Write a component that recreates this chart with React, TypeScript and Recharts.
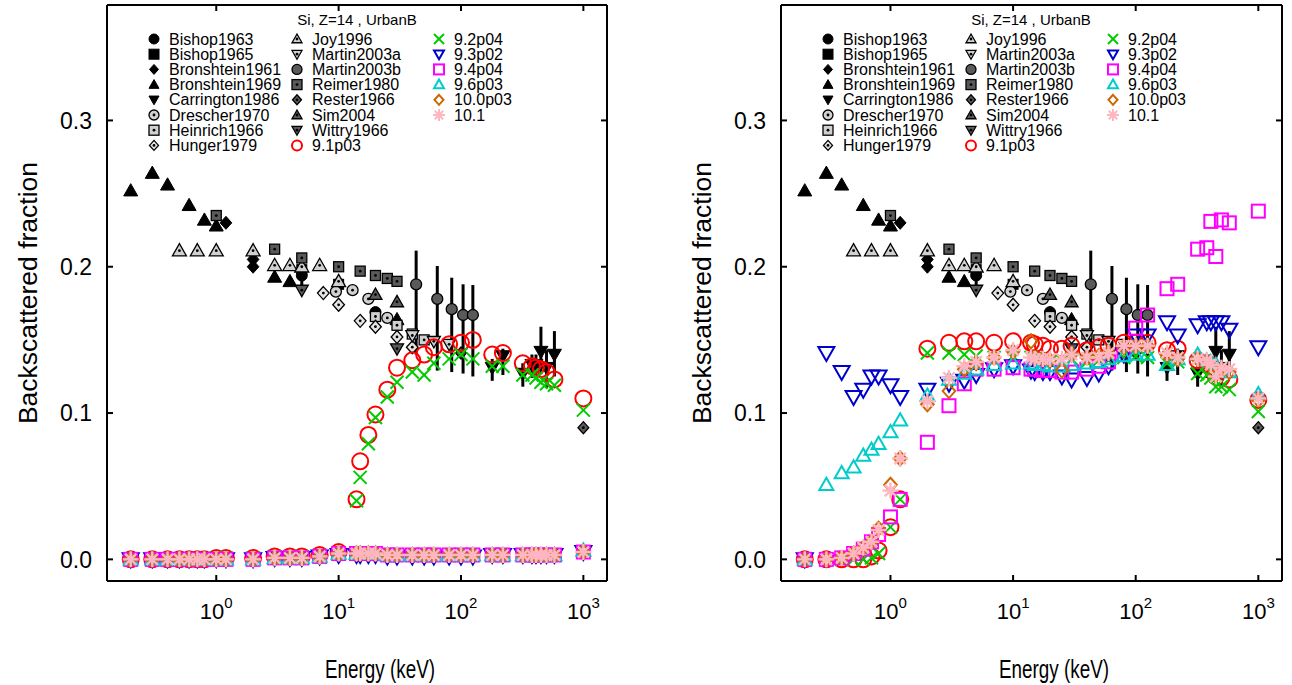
import React from 'react';
import { ScatterChart, Scatter, XAxis, YAxis, ErrorBar } from 'recharts';

const FONT = '"Liberation Sans", Arial, Helvetica, sans-serif';

// ---- experimental data (same in both panels), energy in keV ----
// error arrays are [below, above]
const bishop1963E = [5, 20];
const bishop1963V = [0.194, 0.169];
const bishop1965E = [5, 10];
const bishop1965V = [0.198, 0.188];
const bishop1965Err = [[0.013, 0.011], [0.005, 0.005]];
const bronshtein1961E = [1.2, 2, 2];
const bronshtein1961V = [0.23, 0.205, 0.2];
const bronshtein1969E = [0.2, 0.3, 0.4, 0.6, 0.8, 1.0, 3, 4, 30];
const bronshtein1969V = [0.252, 0.264, 0.256, 0.242, 0.232, 0.228, 0.193, 0.19, 0.164];
const bronshtein1969Err = [[0, 0], [0, 0], [0, 0], [0, 0], [0, 0], [0, 0], [0, 0], [0, 0], [0.008, 0.003]];
const carrington1986E = [180, 220, 320, 380, 410, 450, 500, 580];
const carrington1986V = [0.131, 0.139, 0.127, 0.133, 0.133, 0.142, 0.131, 0.14];
const carrington1986Err = [[0.009, 0.006], [0.013, 0.005], [0.009, 0.007], [0.009, 0.007], [0.009, 0.007], [0.015, 0.017], [0.014, 0.012], [0.015, 0.016]];
const drescher1970E = [9.5, 13, 17.5, 25];
const drescher1970V = [0.183, 0.184, 0.178, 0.165];
const heinrich1966E = [20, 30, 40, 50];
const heinrich1966V = [0.166, 0.16, 0.154, 0.15];
const hunger1979E = [7.5, 10, 15, 20, 30, 40];
const hunger1979V = [0.182, 0.174, 0.163, 0.159, 0.152, 0.145];
const joy1996E = [0.5, 0.7, 1, 2, 3, 4, 5, 7, 10];
const joy1996V = [0.211, 0.211, 0.211, 0.211, 0.201, 0.201, 0.2, 0.201, 0.19];
const martin2003aE = [40, 60, 80];
const martin2003aV = [0.153, 0.149, 0.147];
const martin2003bE = [43, 64, 84, 104, 125];
const martin2003bV = [0.188, 0.178, 0.171, 0.167, 0.167];
const martin2003bErr = [[0.048, 0.023], [0.049, 0.0225], [0.043, 0.0215], [0.04, 0.021], [0.042, 0.0205]];
const reimer1980E = [1, 3, 5, 10, 15, 20, 25, 30];
const reimer1980V = [0.235, 0.212, 0.206, 0.2, 0.197, 0.194, 0.192, 0.19];
const rester1966E = [100, 1000];
const rester1966V = [0.141, 0.09];
const sim2004E = [20, 30];
const sim2004V = [0.181, 0.176];
const wittry1966E = [5, 30];
const wittry1966V = [0.184, 0.144];

// ---- Geant4 simulations, common energy grid ----
const simE = [0.2, 0.3, 0.4, 0.5, 0.6, 0.7, 0.8, 1.0, 1.2, 2, 3, 4, 5, 7, 10, 14, 15, 17.5, 20, 25, 30, 40, 50, 60, 80, 100, 125, 180, 220, 320, 380, 410, 450, 500, 580, 1000];

// left panel
const g91L = [0, 0, 0, 0, 0, 0, 0, 0.001, 0.001, 0.001, 0.002, 0.002, 0.002, 0.003, 0.005, 0.041, 0.067, 0.085, 0.099, 0.116, 0.131, 0.136, 0.14, 0.145, 0.147, 0.148, 0.15, 0.14, 0.141, 0.134, 0.132, 0.131, 0.13, 0.128, 0.123, 0.11];
const g92L = [0, 0, 0, 0, 0, 0, 0, 0.001, 0.001, 0.001, 0.002, 0.002, 0.002, 0.003, 0.004, 0.04, 0.056, 0.079, 0.097, 0.111, 0.121, 0.128, 0.126, 0.134, 0.137, 0.14, 0.137, 0.132, 0.132, 0.126, 0.126, 0.124, 0.121, 0.12, 0.119, 0.102];
const g93L = [0, 0, 0, 0, 0, 0, 0, 0, 0, 0, 0.001, 0.001, 0.001, 0.002, 0.003, 0.003, 0.003, 0.003, 0.003, 0.002, 0.002, 0.002, 0.002, 0.002, 0.002, 0.002, 0.002, 0.003, 0.003, 0.003, 0.003, 0.003, 0.003, 0.003, 0.003, 0.005];
const g94L = [0, 0, 0, 0, 0, 0, 0, 0, 0, 0, 0.001, 0.001, 0.001, 0.002, 0.004, 0.004, 0.004, 0.004, 0.004, 0.003, 0.003, 0.003, 0.003, 0.003, 0.003, 0.003, 0.003, 0.003, 0.003, 0.003, 0.003, 0.003, 0.003, 0.003, 0.003, 0.005];
const g96L = [0, 0, 0, 0, 0, 0, 0, 0, 0, 0, 0.001, 0.001, 0.001, 0.002, 0.004, 0.004, 0.004, 0.004, 0.004, 0.003, 0.003, 0.003, 0.003, 0.003, 0.003, 0.003, 0.003, 0.003, 0.003, 0.003, 0.003, 0.003, 0.003, 0.003, 0.003, 0.006];
const g100L = [0, 0, 0, 0, 0, 0, 0, 0, 0, 0, 0.001, 0.001, 0.001, 0.002, 0.004, 0.004, 0.004, 0.004, 0.004, 0.003, 0.003, 0.003, 0.003, 0.003, 0.003, 0.003, 0.003, 0.003, 0.003, 0.003, 0.003, 0.003, 0.003, 0.003, 0.003, 0.005];
const g101L = [0, 0, 0, 0, 0, 0, 0, 0, 0, 0, 0.001, 0.001, 0.001, 0.002, 0.004, 0.004, 0.004, 0.004, 0.004, 0.003, 0.003, 0.003, 0.003, 0.003, 0.003, 0.003, 0.003, 0.003, 0.003, 0.003, 0.003, 0.003, 0.003, 0.003, 0.003, 0.005];

// right panel
const g91R = [0, 0, 0, 0, 0, 0.002, 0.006, 0.022, 0.041, 0.144, 0.148, 0.149, 0.149, 0.148, 0.149, 0.148, 0.147, 0.146, 0.144, 0.144, 0.146, 0.143, 0.145, 0.146, 0.148, 0.148, 0.148, 0.143, 0.144, 0.136, 0.134, 0.133, 0.125, 0.124, 0.123, 0.109];
const g92R = [0, 0, 0, 0, 0, 0.001, 0.004, 0.022, 0.041, 0.141, 0.141, 0.14, 0.139, 0.138, 0.139, 0.138, 0.137, 0.136, 0.135, 0.136, 0.137, 0.135, 0.136, 0.136, 0.138, 0.139, 0.138, 0.134, 0.135, 0.127, 0.126, 0.124, 0.118, 0.118, 0.116, 0.101];
const g93R = [0, 0.141, 0.128, 0.111, 0.116, 0.125, 0.125, 0.119, 0.111, 0.116, 0.12, 0.122, 0.126, 0.13, 0.132, 0.129, 0.128, 0.128, 0.128, 0.125, 0.123, 0.124, 0.127, 0.132, 0.14, 0.153, 0.153, 0.162, 0.153, 0.16, 0.162, 0.162, 0.162, 0.162, 0.157, 0.145];
const g94R = [0, 0, 0.001, 0.004, 0.007, 0.012, 0.017, 0.029, 0.041, 0.08, 0.105, 0.12, 0.13, 0.13, 0.131, 0.13, 0.13, 0.129, 0.129, 0.128, 0.128, 0.13, 0.132, 0.135, 0.14, 0.158, 0.167, 0.185, 0.188, 0.212, 0.213, 0.231, 0.207, 0.232, 0.23, 0.238];
const g96R = [0, 0.051, 0.059, 0.063, 0.071, 0.075, 0.079, 0.087, 0.095, 0.112, 0.123, 0.127, 0.13, 0.133, 0.134, 0.134, 0.133, 0.133, 0.132, 0.132, 0.133, 0.134, 0.135, 0.137, 0.139, 0.14, 0.14, 0.133, 0.137, 0.14, 0.136, 0.135, 0.133, 0.13, 0.128, 0.113];
const g100R = [0, 0, 0.001, 0.004, 0.008, 0.012, 0.021, 0.051, 0.069, 0.106, 0.115, 0.13, 0.134, 0.138, 0.142, 0.149, 0.138, 0.137, 0.136, 0.129, 0.14, 0.138, 0.139, 0.141, 0.145, 0.146, 0.146, 0.14, 0.137, 0.137, 0.135, 0.132, 0.126, 0.13, 0.128, 0.109];
const g101R = [0, 0, 0.001, 0.004, 0.008, 0.012, 0.02, 0.047, 0.069, 0.108, 0.124, 0.132, 0.135, 0.138, 0.143, 0.138, 0.137, 0.137, 0.137, 0.137, 0.14, 0.138, 0.138, 0.141, 0.146, 0.146, 0.146, 0.141, 0.138, 0.137, 0.136, 0.133, 0.125, 0.131, 0.13, 0.11];

const X_TICKS = [1, 10, 100, 1000];
const X_EXP = ['0', '1', '2', '3'];
const Y_TICKS = [0, 0.1, 0.2, 0.3];
const Y_LABELS = ['0.0', '0.1', '0.2', '0.3'];
const X_DOMAIN: [number, number] = [0.128, 1560];
const Y_DOMAIN: [number, number] = [-0.0148, 0.3789];

type Kind = 'circle' | 'square' | 'diamond' | 'up' | 'down' | 'x' | 'star';
interface Sty { kind: Kind; size: number; fill: string; stroke: string; sw: number; dot?: boolean }

const LG = '#d0d0d0';
const DG = '#5a5a5a';

const Mark: React.FC<{ cx: number; cy: number; st: Sty; size?: number }> = ({ cx, cy, st, size }) => {
  const s = size ?? st.size;
  const r = s / 2;
  const c = { fill: st.fill, stroke: st.stroke, strokeWidth: st.sw };
  let body: React.ReactNode = null;
  switch (st.kind) {
    case 'circle':
      body = <circle cx={cx} cy={cy} r={r} {...c} />;
      break;
    case 'square':
      body = <rect x={cx - r} y={cy - r} width={s} height={s} {...c} />;
      break;
    case 'diamond':
      body = <polygon points={`${cx},${cy - r} ${cx + r * 0.9},${cy} ${cx},${cy + r} ${cx - r * 0.9},${cy}`} {...c} />;
      break;
    case 'up':
      body = <polygon points={`${cx},${cy - r} ${cx + r},${cy + r * 0.75} ${cx - r},${cy + r * 0.75}`} {...c} />;
      break;
    case 'down':
      body = <polygon points={`${cx},${cy + r} ${cx + r},${cy - r * 0.75} ${cx - r},${cy - r * 0.75}`} {...c} />;
      break;
    case 'x':
      body = (
        <g stroke={st.stroke} strokeWidth={st.sw}>
          <line x1={cx - r} y1={cy - r} x2={cx + r} y2={cy + r} />
          <line x1={cx - r} y1={cy + r} x2={cx + r} y2={cy - r} />
        </g>
      );
      break;
    case 'star': {
      const d = r * 0.707;
      body = (
        <g stroke={st.stroke} strokeWidth={st.sw}>
          <line x1={cx - r} y1={cy} x2={cx + r} y2={cy} />
          <line x1={cx} y1={cy - r} x2={cx} y2={cy + r} />
          <line x1={cx - d} y1={cy - d} x2={cx + d} y2={cy + d} />
          <line x1={cx - d} y1={cy + d} x2={cx + d} y2={cy - d} />
        </g>
      );
      break;
    }
  }
  return (
    <g>
      {body}
      {st.dot && <circle cx={cx} cy={cy} r={1.4} fill="#000" />}
    </g>
  );
};

interface Series { name: string; st: Sty; e: number[]; v: number[]; err?: number[][] }

const expSeries: Series[] = [
  { name: 'Bishop1963', st: { kind: 'circle', size: 11, fill: '#000', stroke: '#000', sw: 1 }, e: bishop1963E, v: bishop1963V },
  { name: 'Bishop1965', st: { kind: 'square', size: 10, fill: '#000', stroke: '#000', sw: 1 }, e: bishop1965E, v: bishop1965V, err: bishop1965Err },
  { name: 'Bronshtein1961', st: { kind: 'diamond', size: 13, fill: '#000', stroke: '#000', sw: 1 }, e: bronshtein1961E, v: bronshtein1961V },
  { name: 'Bronshtein1969', st: { kind: 'up', size: 14, fill: '#000', stroke: '#000', sw: 1 }, e: bronshtein1969E, v: bronshtein1969V, err: bronshtein1969Err },
  { name: 'Carrington1986', st: { kind: 'down', size: 14, fill: '#000', stroke: '#000', sw: 1 }, e: carrington1986E, v: carrington1986V, err: carrington1986Err },
  { name: 'Drescher1970', st: { kind: 'circle', size: 11, fill: LG, stroke: '#000', sw: 1.3, dot: true }, e: drescher1970E, v: drescher1970V },
  { name: 'Heinrich1966', st: { kind: 'square', size: 10, fill: LG, stroke: '#000', sw: 1.3, dot: true }, e: heinrich1966E, v: heinrich1966V },
  { name: 'Hunger1979', st: { kind: 'diamond', size: 13, fill: '#e4e4e4', stroke: '#000', sw: 1.3, dot: true }, e: hunger1979E, v: hunger1979V },
  { name: 'Joy1996', st: { kind: 'up', size: 14, fill: LG, stroke: '#000', sw: 1.3, dot: true }, e: joy1996E, v: joy1996V },
  { name: 'Martin2003a', st: { kind: 'down', size: 13, fill: LG, stroke: '#000', sw: 1.3, dot: true }, e: martin2003aE, v: martin2003aV },
  { name: 'Martin2003b', st: { kind: 'circle', size: 11, fill: DG, stroke: '#000', sw: 1.3 }, e: martin2003bE, v: martin2003bV, err: martin2003bErr },
  { name: 'Reimer1980', st: { kind: 'square', size: 10, fill: DG, stroke: '#000', sw: 1.3, dot: true }, e: reimer1980E, v: reimer1980V },
  { name: 'Rester1966', st: { kind: 'diamond', size: 12, fill: DG, stroke: '#000', sw: 1.3, dot: true }, e: rester1966E, v: rester1966V },
  { name: 'Sim2004', st: { kind: 'up', size: 13, fill: DG, stroke: '#000', sw: 1.3, dot: true }, e: sim2004E, v: sim2004V },
  { name: 'Wittry1966', st: { kind: 'down', size: 13, fill: DG, stroke: '#000', sw: 1.3, dot: true }, e: wittry1966E, v: wittry1966V },
];

const simStyles: { name: string; st: Sty }[] = [
  { name: '9.1p03', st: { kind: 'circle', size: 16, fill: 'none', stroke: '#ff0000', sw: 2 } },
  { name: '9.2p04', st: { kind: 'x', size: 13, fill: 'none', stroke: '#00cc00', sw: 2 } },
  { name: '9.3p02', st: { kind: 'down', size: 16, fill: 'none', stroke: '#0000cc', sw: 2 } },
  { name: '9.4p04', st: { kind: 'square', size: 13, fill: 'none', stroke: '#ff00ff', sw: 2 } },
  { name: '9.6p03', st: { kind: 'up', size: 14, fill: 'none', stroke: '#00cccc', sw: 2 } },
  { name: '10.0p03', st: { kind: 'diamond', size: 14, fill: 'none', stroke: '#cc6600', sw: 2 } },
  { name: '10.1', st: { kind: 'star', size: 16, fill: 'none', stroke: '#ffb6c1', sw: 2.4 } },
];

const simLeft = [g91L, g92L, g93L, g94L, g96L, g100L, g101L];
const simRight = [g91R, g92R, g93R, g94R, g96R, g100R, g101R];

const toPoints = (e: number[], v: number[], err?: number[][]) =>
  e.map((x, i) => ({ x, y: v[i], err: err ? err[i] : [0, 0] }));

interface Geom { offset: number; left: number; right: number; width: number }
const H = 685;
const TOP = 5;
const BOTTOM = 581;
const X_AXIS_H = 40;
const Y_AXIS_W = 60;

const Panel: React.FC<{ g: Geom; sims: number[][] }> = ({ g, sims }) => {
  const plotLeft = g.left;
  const plotRight = g.width - g.right;

  const BottomTick = (p: any) => {
    const i = X_TICKS.indexOf(p.payload.value);
    return (
      <g>
        <line x1={p.x} x2={p.x} y1={BOTTOM} y2={BOTTOM - 6} stroke="#000" strokeWidth={2} />
        <line x1={p.x} x2={p.x} y1={TOP} y2={TOP + 6} stroke="#000" strokeWidth={2} />
        <text x={p.x} y={BOTTOM + 38} textAnchor="middle" fontFamily={FONT} fontSize={22} fill="#000">
          10<tspan dy={-11} fontSize={15}>{X_EXP[i]}</tspan>
        </text>
      </g>
    );
  };

  const LeftTick = (p: any) => {
    const i = Y_TICKS.indexOf(p.payload.value);
    return (
      <g>
        <line x1={plotLeft} x2={plotLeft + 6} y1={p.y} y2={p.y} stroke="#000" strokeWidth={2} />
        <line x1={plotRight} x2={plotRight - 6} y1={p.y} y2={p.y} stroke="#000" strokeWidth={2} />
        <text x={plotLeft - 15} y={p.y} dy="0.36em" textAnchor="end" fontFamily={FONT} fontSize={23} fill="#000">
          {Y_LABELS[i]}
        </text>
      </g>
    );
  };

  const frame = { stroke: '#000', strokeWidth: 2 };

  return (
    <ScatterChart
      width={g.width}
      height={H}
      margin={{ top: TOP - 1, bottom: H - BOTTOM - X_AXIS_H, left: g.left - Y_AXIS_W, right: g.right - 1 }}
    >
      <XAxis xAxisId="b" dataKey="x" type="number" scale="log" domain={X_DOMAIN} allowDataOverflow ticks={X_TICKS} interval={0} height={X_AXIS_H} tickLine={false} axisLine={frame} tick={BottomTick} />
      <XAxis xAxisId="t" orientation="top" type="number" scale="log" domain={X_DOMAIN} allowDataOverflow ticks={X_TICKS} height={1} tick={false} tickLine={false} axisLine={frame} />
      <YAxis yAxisId="l" dataKey="y" type="number" domain={Y_DOMAIN} allowDataOverflow ticks={Y_TICKS} interval={0} width={Y_AXIS_W} tickLine={false} axisLine={frame} tick={LeftTick} />
      <YAxis yAxisId="r" orientation="right" type="number" domain={Y_DOMAIN} allowDataOverflow ticks={Y_TICKS} width={1} tick={false} tickLine={false} axisLine={frame} />
      {expSeries.map((s) => (
        <Scatter
          key={s.name}
          name={s.name}
          xAxisId="b"
          yAxisId="l"
          data={toPoints(s.e, s.v, s.err)}
          isAnimationActive={false}
          shape={(p: any) => <Mark cx={p.cx} cy={p.cy} st={s.st} />}
        >
          {s.err && <ErrorBar dataKey="err" direction="y" width={0} stroke="#000" strokeWidth={3} />}
        </Scatter>
      ))}
      {simStyles.map((s, k) => (
        <Scatter
          key={s.name}
          name={s.name}
          xAxisId="b"
          yAxisId="l"
          data={toPoints(simE, sims[k])}
          isAnimationActive={false}
          shape={(p: any) => <Mark cx={p.cx} cy={p.cy} st={s.st} />}
        />
      ))}
    </ScatterChart>
  );
};

const legendCols = [
  expSeries.slice(0, 8).map((s) => ({ name: s.name, st: s.st })),
  [...expSeries.slice(8).map((s) => ({ name: s.name, st: s.st })), simStyles[0]],
  simStyles.slice(1),
];

const Legend: React.FC<{ dx: number }> = ({ dx }) => {
  const colX = [154, 297, 439];
  const rowY0 = 39;
  const rowH = 15.2;
  return (
    <g fontFamily={FONT}>
      <text x={357 + dx} y={25} textAnchor="middle" fontSize={15} fill="#000">Si, Z=14 , UrbanB</text>
      {legendCols.map((col, ci) =>
        col.map((it, ri) => (
          <g key={`${ci}-${ri}`}>
            <Mark cx={colX[ci] + dx} cy={rowY0 + ri * rowH} st={{ ...it.st, sw: Math.min(it.st.sw, 2) }} size={it.st.kind === 'star' ? 12 : 10} />
            <text x={colX[ci] + 15 + dx} y={rowY0 + ri * rowH + 5.5} fontSize={16} fill="#000">{it.name}</text>
          </g>
        ))
      )}
    </g>
  );
};

export default function App() {
  const leftG: Geom = { offset: 0, left: 107, right: 39, width: 646 };
  const rightG: Geom = { offset: 646, left: 135, right: 10, width: 646 };
  return (
    <div style={{ position: 'absolute', left: 0, top: 0, width: 1292, height: 685, background: '#fff' }}>
      <div style={{ position: 'absolute', left: leftG.offset, top: 0 }}>
        <Panel g={leftG} sims={simLeft} />
      </div>
      <div style={{ position: 'absolute', left: rightG.offset, top: 0 }}>
        <Panel g={rightG} sims={simRight} />
      </div>
      <svg width={1292} height={685} style={{ position: 'absolute', left: 0, top: 0, pointerEvents: 'none' }}>
        <Legend dx={0} />
        <Legend dx={674} />
        <text transform="translate(37,293) rotate(-90)" textAnchor="middle" fontFamily={FONT} fontSize={26.5} fill="#000">Backscattered fraction</text>
        <text transform="translate(711,293) rotate(-90)" textAnchor="middle" fontFamily={FONT} fontSize={26.5} fill="#000">Backscattered fraction</text>
        <text x={380} y={678} textAnchor="middle" fontFamily={FONT} fontSize={25} textLength={110} lengthAdjust="spacingAndGlyphs" fill="#000">Energy (keV)</text>
        <text x={1054} y={678} textAnchor="middle" fontFamily={FONT} fontSize={25} textLength={110} lengthAdjust="spacingAndGlyphs" fill="#000">Energy (keV)</text>
      </svg>
    </div>
  );
}
